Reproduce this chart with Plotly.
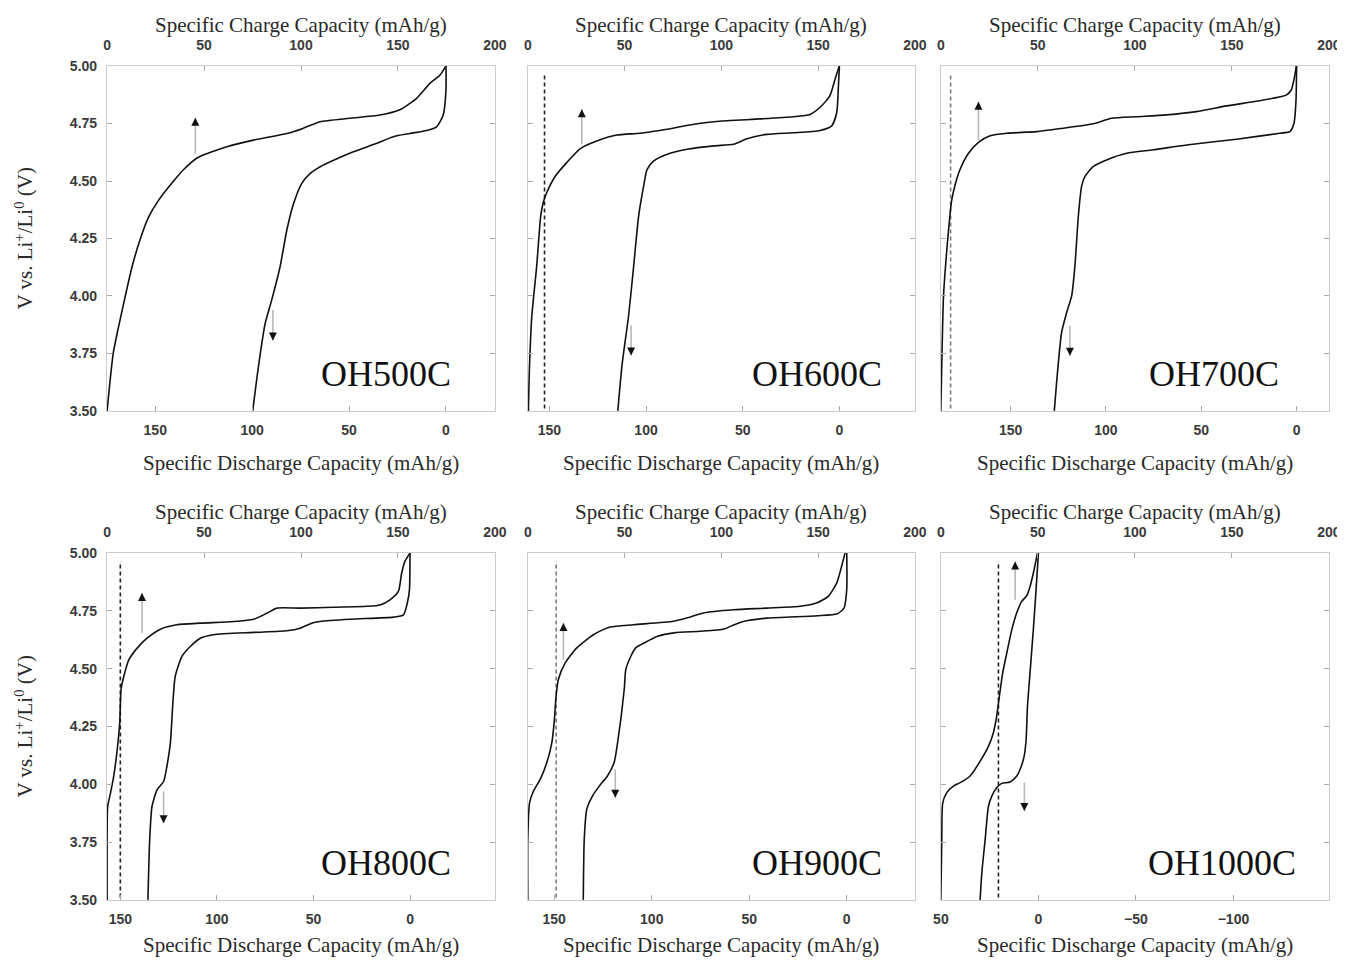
import plotly.graph_objects as go

# ---------------- DATA ----------------
panel_names = ["OH500C", "OH600C", "OH700C", "OH800C", "OH900C", "OH1000C"]

# OH500C
chg_q_500 = [0, 1.4, 3.1, 5.5, 9.4, 12.9, 17.2, 21.5, 26.6, 34.3, 39.5, 46.4, 61.8, 75.5, 92.7, 101, 109.8, 125, 140.7, 151, 159.6, 166.5, 171.6, 174.7]
chg_v_500 = [3.50, 3.62, 3.747, 3.85, 4.00, 4.128, 4.25, 4.345, 4.417, 4.50, 4.55, 4.60, 4.649, 4.678, 4.707, 4.729, 4.758, 4.773, 4.787, 4.81, 4.86, 4.925, 4.96, 5.00]
dis_d_500 = [0, 0, 1.4, 4.8, 10, 18.6, 27.2, 35.7, 47.8, 58, 64.9, 70, 74.4, 78.7, 82.1, 85.6, 89.9, 93.3, 96.8, 99.7]
dis_v_500 = [5.00, 4.896, 4.787, 4.736, 4.72, 4.707, 4.693, 4.664, 4.627, 4.59, 4.562, 4.533, 4.49, 4.40, 4.287, 4.127, 3.983, 3.88, 3.69, 3.50]

# OH600C
chg_q_600 = [0.3, 0.9, 2.1, 4.6, 6.7, 8.1, 9.8, 14.1, 20.1, 27, 35.6, 46, 58, 71.8, 82, 95.9, 114.8, 137, 145.8, 150.9, 156, 158.7, 160.9]
chg_v_600 = [3.50, 3.70, 3.915, 4.13, 4.35, 4.41, 4.45, 4.52, 4.58, 4.64, 4.674, 4.70, 4.708, 4.725, 4.742, 4.758, 4.768, 4.78, 4.79, 4.82, 4.87, 4.942, 5.00]
dis_d_600 = [0, 0.5, 1.4, 4, 10, 23.8, 37.5, 47.8, 54.7, 65, 78.8, 89, 96, 99.5, 101.2, 103.8, 106.4, 109, 112.4, 114.6]
dis_v_600 = [5.00, 4.913, 4.797, 4.74, 4.72, 4.71, 4.703, 4.684, 4.66, 4.653, 4.638, 4.617, 4.588, 4.55, 4.48, 4.35, 4.13, 3.915, 3.70, 3.50]

# OH700C
chg_q_700 = [0, 0.5, 1.4, 3.1, 4.8, 5.7, 7.4, 9.9, 14.2, 19.4, 25.4, 34, 49.4, 63.1, 78.6, 88, 100.9, 116.3, 131.7, 147.2, 160.9, 171.2, 178, 180.6, 182.3, 183.2]
chg_v_700 = [3.50, 3.70, 4.00, 4.20, 4.36, 4.42, 4.484, 4.55, 4.62, 4.668, 4.697, 4.708, 4.715, 4.73, 4.749, 4.773, 4.78, 4.788, 4.802, 4.827, 4.845, 4.86, 4.874, 4.896, 4.954, 5.00]
dis_d_700 = [0, 0.3, 1.4, 3.5, 8.7, 31.5, 57.7, 75.2, 89.2, 99.7, 106.6, 111, 112.8, 114.5, 116.3, 118, 120.6, 123.3, 125.9, 127.1]
dis_v_700 = [5.00, 4.853, 4.75, 4.715, 4.708, 4.682, 4.657, 4.636, 4.621, 4.592, 4.564, 4.52, 4.477, 4.347, 4.13, 4.00, 3.928, 3.84, 3.624, 3.50]

# OH800C
chg_q_800 = [0, 0, 0.3, 1.7, 3.4, 5.2, 6.5, 7.2, 8.6, 11.2, 15.5, 20.6, 27.5, 36, 48, 65.2, 75.5, 82.4, 87.6, 99.6, 116.7, 133.9, 140.8, 145.9, 150.2, 151.9, 153.6, 156.2]
chg_v_800 = [3.50, 3.76, 3.904, 3.96, 4.034, 4.149, 4.264, 4.41, 4.466, 4.538, 4.589, 4.632, 4.671, 4.69, 4.697, 4.704, 4.714, 4.74, 4.762, 4.762, 4.766, 4.77, 4.776, 4.798, 4.834, 4.913, 4.964, 5.00]
dis_d_800 = [0, 0.3, 1.4, 3.4, 8.6, 31, 46.6, 50.9, 56.9, 63.8, 81, 101.7, 108.6, 113.8, 118.1, 121.6, 122.8, 124.1, 125.9, 127.6, 131, 133.6, 134.8, 135.7]
dis_v_800 = [5.00, 4.841, 4.784, 4.733, 4.723, 4.714, 4.704, 4.697, 4.675, 4.664, 4.657, 4.647, 4.632, 4.596, 4.553, 4.466, 4.351, 4.178, 4.077, 4.012, 3.976, 3.904, 3.76, 3.50]

# OH900C
chg_q_900 = [0, 0, 0.9, 2.9, 6.4, 9.8, 12.4, 13.6, 14.6, 15.8, 19.3, 25.3, 33.9, 42.5, 54.6, 75.2, 82.1, 90.7, 106.2, 123.4, 140.6, 149.2, 155.2, 159.6, 162.1, 163.9]
chg_v_900 = [3.50, 3.762, 3.92, 3.97, 4.021, 4.093, 4.179, 4.266, 4.381, 4.453, 4.525, 4.59, 4.647, 4.68, 4.69, 4.705, 4.719, 4.741, 4.755, 4.762, 4.77, 4.784, 4.813, 4.87, 4.942, 5.00]
dis_d_900 = [0, 0, 1.4, 4.8, 15, 40.7, 52.6, 57.7, 62.9, 74.8, 88.5, 97, 103.9, 108.2, 110.7, 113.3, 114.1, 117.5, 119.3, 122.7, 126.9, 130.4, 133.3, 134.6, 135.1]
dis_v_900 = [5.00, 4.842, 4.762, 4.738, 4.729, 4.719, 4.705, 4.69, 4.672, 4.662, 4.655, 4.64, 4.611, 4.59, 4.554, 4.496, 4.41, 4.18, 4.093, 4.036, 3.992, 3.949, 3.892, 3.762, 3.50]

# OH1000C
chg_q_1000 = [0, 0.5, 1, 3.1, 6.5, 10, 15.1, 20.3, 24.6, 27.1, 28.8, 30.2, 31.9, 34, 36.6, 39.1, 41.7, 44.3, 46, 47.7, 49.8]
chg_v_1000 = [3.50, 3.762, 3.92, 3.964, 3.992, 4.007, 4.036, 4.10, 4.165, 4.223, 4.295, 4.381, 4.482, 4.568, 4.669, 4.741, 4.791, 4.816, 4.856, 4.914, 5.00]
dis_d_1000 = [0, 1.2, 2.6, 4.3, 5.6, 6.3, 7.3, 9.4, 11.1, 14.5, 18.8, 21.4, 23.9, 25.6, 27.3, 29.0, 29.9]
dis_v_1000 = [5.00, 4.842, 4.669, 4.482, 4.338, 4.194, 4.122, 4.064, 4.036, 4.01, 4.004, 3.985, 3.949, 3.906, 3.762, 3.618, 3.50]

charge_q = [chg_q_500, chg_q_600, chg_q_700, chg_q_800, chg_q_900, chg_q_1000]
charge_v = [chg_v_500, chg_v_600, chg_v_700, chg_v_800, chg_v_900, chg_v_1000]
discharge_d = [dis_d_500, dis_d_600, dis_d_700, dis_d_800, dis_d_900, dis_d_1000]
discharge_v = [dis_v_500, dis_v_600, dis_v_700, dis_v_800, dis_v_900, dis_v_1000]

# dashed reference line (discharge-axis value), None = no line
dashed_d = [None, 152.5, 181.5, 150, 149, 20.5]
dashed_v = [3.51, 4.965]

# bottom (discharge) axis ranges, reversed
discharge_range = [[174.9, -25.3], [161.2, -39.1], [186.7, -17.0], [156.9, -44.0], [163.6, -35.0], [50.1, -149.0]]
discharge_ticks = [[150, 100, 50, 0]] * 5 + [[50, 0, -50, -100]]
charge_ticks = [0, 50, 100, 150, 200]
volt_ticks = [3.50, 3.75, 4.00, 4.25, 4.50, 4.75, 5.00]

# arrows: [x, tail V, head V]; up arrows on the charge axis, down arrows on the discharge axis
up_arrow = [[45.5, 4.62, 4.775], [27.9, 4.66, 4.812], [19.4, 4.679, 4.845], [18.0, 4.654, 4.827], [18.4, 4.539, 4.698], [38.3, 4.798, 4.964]]
down_arrow = [[89.3, 3.939, 3.806], [107.7, 3.871, 3.741], [118.9, 3.870, 3.740], [127.6, 3.969, 3.832], [118.7, 4.064, 3.942], [7.2, 4.007, 3.884]]

# ---------------- LAYOUT GEOMETRY ----------------
OFF = 8  # page body margin
W, H = 1345 - OFF, 966 - 2 * OFF
col_px = [(107 - OFF, 495 - OFF), (527.7 - OFF, 915 - OFF), (940.7 - OFF, 1329 - OFF)]
row_px = [(66 - OFF, 411 - OFF), (553 - OFF, 900 - OFF)]
bottom_title_gap = [52, 45]
label_right = [0.892, 0.92, 0.876, 0.892, 0.92, 0.92]
dash_colors = [None, "#222222", "#7a7a7a", "#222222", "#7a7a7a", "#222222"]

TICKFONT = dict(family="Liberation Sans, Arial, sans-serif", size=14, color="#3a3a3a", weight="bold")
TITLEFONT = dict(family="Liberation Serif, Times New Roman, serif", size=21, color="#2a2a2a")
FRAME = "#cccccc"
TICKC = "#aaaaaa"

fig = go.Figure()
layout = dict(width=W, height=H, margin=dict(l=0, r=0, t=0, b=0),
              template="none", showlegend=False,
              paper_bgcolor="white", plot_bgcolor="white")
annotations = []

for k in range(6):
    r, c = divmod(k, 3)
    x0, x1 = col_px[c]
    y0, y1 = row_px[r]
    xb = 2 * k + 1
    xt = 2 * k + 2
    yk = k + 1
    xb_name = "x" if xb == 1 else f"x{xb}"
    xt_name = f"x{xt}"
    y_name = "y" if yk == 1 else f"y{yk}"
    xb_key = "xaxis" if xb == 1 else f"xaxis{xb}"
    xt_key = f"xaxis{xt}"
    y_key = "yaxis" if yk == 1 else f"yaxis{yk}"

    layout[xb_key] = dict(domain=[x0 / W, x1 / W], anchor=y_name, side="bottom",
                          range=discharge_range[k], tickvals=discharge_ticks[k],
                          ticks="inside", ticklen=5, tickcolor=TICKC, tickwidth=1,
                          showline=True, linecolor=FRAME, linewidth=1.2, mirror=False,
                          showgrid=False, zeroline=False, automargin=False,
                          tickfont=TICKFONT, ticklabelstandoff=6, ticklabeloverflow="allow")
    layout[xt_key] = dict(anchor=y_name, overlaying=xb_name, side="top",
                          range=[-0.05, 200.05], tickvals=charge_ticks,
                          ticks="inside", ticklen=5, tickcolor=TICKC, tickwidth=1,
                          showline=True, linecolor=FRAME, linewidth=1.2,
                          showgrid=False, zeroline=False, automargin=False,
                          tickfont=TICKFONT, ticklabelstandoff=9, ticklabeloverflow="allow")
    layout[y_key] = dict(domain=[1 - y1 / H, 1 - y0 / H], anchor=xb_name,
                         range=[3.4995, 5.0005], tickvals=volt_ticks, tickformat=".2f",
                         ticks="inside", ticklen=5, tickcolor=TICKC, tickwidth=1,
                         showline=True, linecolor=FRAME, linewidth=1.2, mirror="ticks",
                         showgrid=False, zeroline=False, automargin=False,
                         showticklabels=(c == 0), tickfont=TICKFONT, ticklabelstandoff=6,
                         ticklabeloverflow="allow")

    line_style = dict(color="#111111", width=1.6, shape="spline", smoothing=0.6)
    fig.add_trace(go.Scatter(x=charge_q[k], y=charge_v[k], xaxis=xt_name, yaxis=y_name,
                             mode="lines", line=line_style, hoverinfo="skip"))
    fig.add_trace(go.Scatter(x=discharge_d[k], y=discharge_v[k], xaxis=xb_name, yaxis=y_name,
                             mode="lines", line=line_style, hoverinfo="skip"))
    if dashed_d[k] is not None:
        fig.add_trace(go.Scatter(x=[dashed_d[k], dashed_d[k]], y=dashed_v, xaxis=xb_name, yaxis=y_name,
                                 mode="lines", line=dict(color=dash_colors[k], width=1.6, dash="4px,3px"),
                                 hoverinfo="skip"))

    # arrows: gray shaft + black arrow-head marker
    ua = up_arrow[k]
    fig.add_trace(go.Scatter(x=[ua[0], ua[0]], y=[ua[1], ua[2]], xaxis=xt_name, yaxis=y_name,
                             mode="lines", line=dict(color="#b8b8b8", width=1.6), hoverinfo="skip"))
    fig.add_trace(go.Scatter(x=[ua[0]], y=[ua[2]], xaxis=xt_name, yaxis=y_name, mode="markers",
                             marker=dict(symbol="arrow-up", size=8, color="#111111", line=dict(width=0)),
                             hoverinfo="skip"))
    da = down_arrow[k]
    fig.add_trace(go.Scatter(x=[da[0], da[0]], y=[da[1], da[2]], xaxis=xb_name, yaxis=y_name,
                             mode="lines", line=dict(color="#b8b8b8", width=1.6), hoverinfo="skip"))
    fig.add_trace(go.Scatter(x=[da[0]], y=[da[2]], xaxis=xb_name, yaxis=y_name, mode="markers",
                             marker=dict(symbol="arrow-down", size=8, color="#111111", line=dict(width=0)),
                             hoverinfo="skip"))

    # axis titles
    cx = (x0 + x1) / 2 / W
    annotations.append(dict(text="Specific Charge Capacity (mAh/g)", xref="paper", yref="paper",
                            x=cx, y=1 - (y0 - 41) / H, xanchor="center", yanchor="middle",
                            showarrow=False, font=TITLEFONT))
    annotations.append(dict(text="Specific Discharge Capacity (mAh/g)", xref="paper", yref="paper",
                            x=cx, y=1 - (y1 + bottom_title_gap[r]) / H, xanchor="center", yanchor="middle",
                            showarrow=False, font=TITLEFONT))
    # panel label
    annotations.append(dict(text=panel_names[k], xref=f"{xb_name} domain", yref=f"{y_name} domain",
                            x=label_right[k], y=0.107, xanchor="right", yanchor="middle",
                            showarrow=False,
                            font=dict(family="Liberation Serif, Times New Roman, serif", size=36, color="#111111")))

# y-axis titles
for r in range(2):
    y0, y1 = row_px[r]
    annotations.append(dict(text="V vs. Li<sup>+</sup>/Li<sup>0</sup> (V)", xref="paper", yref="paper",
                            x=(24 - OFF) / W, y=1 - ((y0 + y1) / 2) / H, xanchor="center", yanchor="middle",
                            textangle=-90, showarrow=False, font=TITLEFONT))

layout["annotations"] = annotations
fig.update_layout(**layout)
fig.write_html("out.html")
